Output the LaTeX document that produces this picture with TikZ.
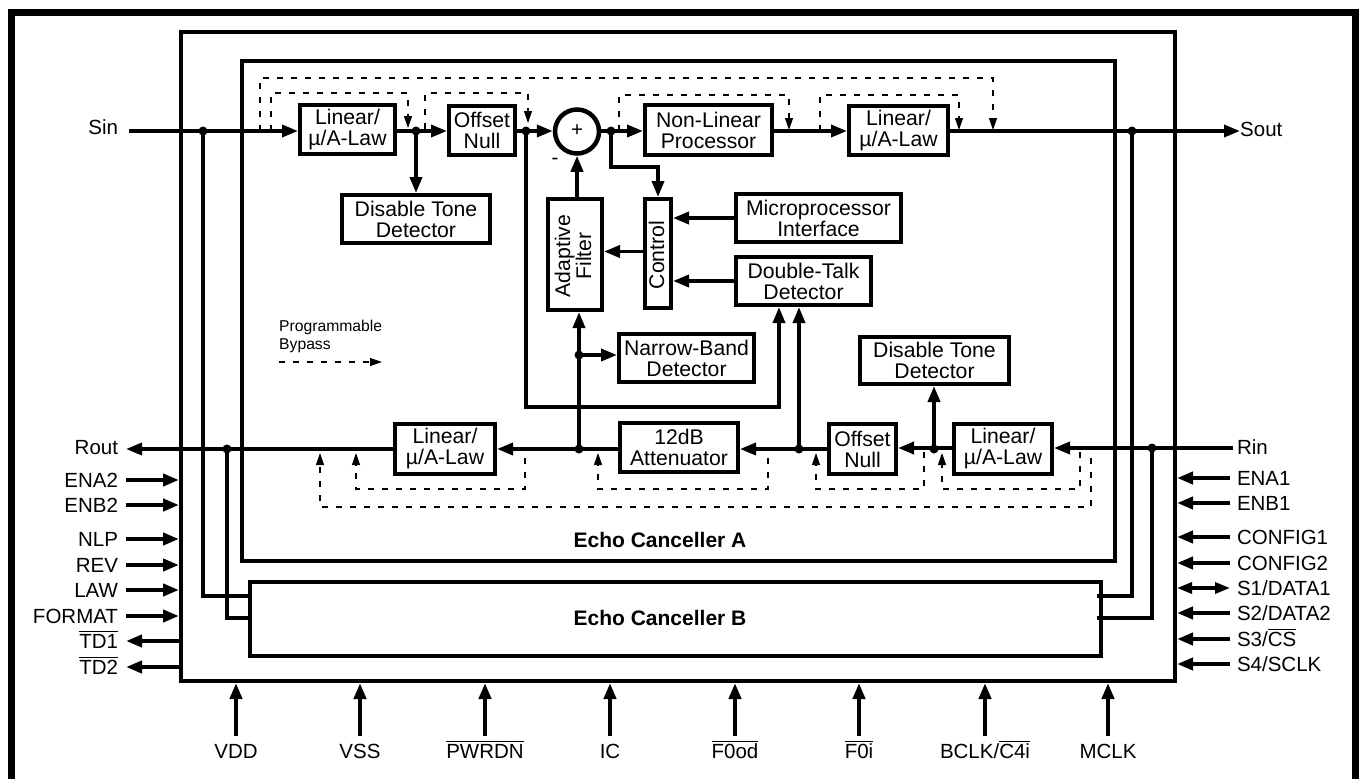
\documentclass[tikz,border=0pt]{standalone}
\usepackage{fontspec}
\setmainfont{Liberation Sans}
\usetikzlibrary{arrows.meta}
\newsavebox\ovlbox
\newcommand\ovl[1]{\sbox\ovlbox{#1}\rlap{\rule[16.3pt]{\wd\ovlbox}{1pt}}\usebox\ovlbox}
\newcommand\mulaw{Linear/\\µ/A-Law}
\tikzset{
  x=1pt,y=-1pt,
  every node/.style={font=\fontsize{20.5}{21}\selectfont,inner sep=0pt},
  blk/.style={draw=black,line width=4pt,fill=white,align=center,font=\fontsize{21.2}{21}\selectfont},
  conn/.style={line width=3.6pt},
  arr/.style={line width=3.6pt,-{Triangle[length=16pt,width=12pt]}},
  pinarr/.style={line width=4pt,-{Triangle[length=16pt,width=12pt]}},
  biarr/.style={line width=3.2pt,{Triangle[length=15pt,width=11pt]}-{Triangle[length=15pt,width=11pt]}},
  bypass/.style={line width=1.2pt,dash pattern=on 6pt off 8pt,-{Triangle[length=12pt,width=8pt]}},
  joint/.style={circle,fill=black,minimum size=9pt},
  pinl/.style={anchor=east,text height=15pt,text depth=0pt,outer xsep=8pt},
  pinr/.style={anchor=west,text height=15pt,text depth=0pt,outer xsep=7pt},
  pinb/.style={text height=15pt,text depth=0pt,outer ysep=8pt},
}
\begin{document}
\begin{tikzpicture}
\useasboundingbox (0,0) rectangle (1360,779);
% outer frame
\draw[line width=7pt,line join=miter] (11.5,779) -- (11.5,12.5) -- (1355,12.5) -- (1355,779);
% large boxes
\node[draw,line width=4pt,minimum width=994pt,minimum height=649pt] (chip) at (678,356.5) {};
\node[draw,line width=3.6pt,minimum width=873pt,minimum height=500pt] (ecA) at (678.5,311) {};
\node[draw,line width=3.6pt,minimum width=851pt,minimum height=74pt] (ecB) at (675.5,619) {};
\node[font=\fontsize{21}{21}\selectfont\bfseries] (ecAt) at (660,540) {Echo Canceller A};
\node[font=\fontsize{21}{21}\selectfont\bfseries] (ecBt) at (660,618) {Echo Canceller B};
% blocks
\node[blk,minimum width=95pt,minimum height=49pt] (lin1) at (347.5,129.5) {\mulaw};
\node[blk,minimum width=66pt,minimum height=49pt] (off1) at (482,130.5) {Offset\\Null};
\node[blk,minimum width=148pt,minimum height=48pt] (dis1) at (416,219) {Disable Tone\\Detector};
\node[blk,minimum width=127pt,minimum height=50pt] (nlp) at (708.5,130) {Non-Linear\\Processor};
\node[blk,minimum width=99pt,minimum height=49pt] (lin2) at (898.5,130.5) {\mulaw};
\node[blk,minimum width=165pt,minimum height=48pt] (mic) at (818.5,218) {Microprocessor\\Interface};
\node[blk,minimum width=135pt,minimum height=48pt] (dtd) at (803.5,281) {Double-Talk\\Detector};
\node[blk,minimum width=26pt,minimum height=109pt] (ctl) at (658,253.5) {};
\node[rotate=90,font=\fontsize{21.2}{21}\selectfont] (ctlt) at (656.5,255) {Control};
\node[blk,minimum width=54pt,minimum height=111pt] (adf) at (575,254.5) {};
\node[rotate=90,align=center,font=\fontsize{21.2}{21}\selectfont] (adft) at (573,256) {Adaptive\\Filter};
\node[blk,minimum width=135pt,minimum height=48pt] (nbd) at (686.5,358) {Narrow-Band\\Detector};
\node[blk,minimum width=149pt,minimum height=47pt] (dis2) at (934.5,360.5) {Disable Tone\\Detector};
\node[blk,minimum width=100pt,minimum height=50pt] (lin3) at (445,449) {\mulaw};
\node[blk,minimum width=118pt,minimum height=49pt] (att) at (679,447.5) {12dB\\Attenuator};
\node[blk,minimum width=67pt,minimum height=50pt] (off2) at (862.5,449) {Offset\\Null};
\node[blk,minimum width=98pt,minimum height=50pt] (lin4) at (1003,449) {\mulaw};
\node[circle,draw,line width=4.5pt,fill=white,minimum size=44pt] (sum) at (577,131.5) {};
\node (plus) at (577,130.5) {+};
\node (minus) at (555,161) {-};
% joints
\node[joint] (d0) at (203,131) {};
\node[joint] (d1) at (416,131) {};
\node[joint] (d2) at (526,131) {};
\node[joint] (d3) at (611,131) {};
\node[joint] (d4) at (1132,131) {};
\node[joint] (d5) at (579,449) {};
\node[joint] (d6) at (579,355) {};
\node[joint] (d7) at (799,449) {};
\node[joint] (d8) at (934,449) {};
\node[joint] (d9) at (1152,448) {};
\node[joint] (d10) at (227,449) {};
% helper points
\coordinate (c1) at (779,407);
\coordinate (c2) at (658,167);
\coordinate (b1) at (250,596);
\coordinate (b2) at (250,618);
\coordinate (b3) at (1097,596);
\coordinate (b4) at (1097,618);
% signal labels
\node[pinl,outer xsep=11pt] (sin) at (129,127) {Sin};
\node[anchor=west,text height=15pt,text depth=0pt] (sout) at (1240,129) {Sout};
\node[pinl] (rout) at (126,447) {Rout};
\node[pinr,outer xsep=4pt] (rin) at (1233,447) {Rin};
% upper path
\draw[arr] (sin.east |- d0) -- (d0.center) -- (d0 -| lin1.west);
\draw[arr] (lin1.east |- d1) -- (d1 -| off1.west);
\draw[arr] (off1.east |- d2) -- (d2 -| sum.west);
\draw[conn] (sum.east |- d3) -- (d3.center);
\draw[arr] (d3.center) -- (d3 -| nlp.west);
\draw[arr] (nlp.east |- 0,131) -- (lin2.west |- 0,131);
\draw[arr] (lin2.east |- d4) -- (sout.west |- d4);
\draw[arr] (d1.center) -- (d1 |- dis1.north);
\draw[arr] (adf.north -| sum.south) -- (sum.south);
\draw[arr] (d3.center) |- (c2) -- (ctl.north);
\draw[arr] (mic.west) -- (mic.west -| ctl.east);
\draw[arr] (dtd.west) -- (dtd.west -| ctl.east);
\draw[arr] ([yshift=2pt]ctl.west) -- ([yshift=2pt]ctl.west -| adf.east);
\draw[arr] (d2.center) |- (c1) -- (c1 |- dtd.south);
\draw[arr] (d5.center) -- (d5 |- adf.south);
\draw[arr] (d6.center) -- (d6 -| nbd.west);
\draw[arr] (d7.center) -- (d7 |- dtd.south);
\draw[arr] (d8.center) -- (d8 |- dis2.south);
% lower path
\draw[arr] (rin.west |- d9) -- (d9 -| lin4.east);
\draw[arr] (lin4.west |- d9) -- (d9 -| off2.east);
\draw[arr] (off2.west |- d7) -- (d7 -| att.east);
\draw[arr] (att.west |- d5) -- (d5 -| lin3.east);
\draw[arr] (lin3.west) -- (rout.east |- lin3.west);
% links to canceller B
\draw[line width=3.3pt] (d0.center) |- (b1);
\draw[line width=3.3pt] (d10.center) |- (b2);
\draw[line width=3.3pt] (d4.center) |- (b3);
\draw[line width=3.3pt] (d9.center) |- (b4);
% bypass, upper
\coordinate (u1) at (260,131); \coordinate (u1e) at (993,130);
\draw[bypass] (u1) -- (260,78) -- (993,78) -- (u1e);
\coordinate (u2) at (271,131); \coordinate (u2e) at (408,128);
\draw[bypass] (u2) -- (271,93) -- (408,93) -- (u2e);
\coordinate (u3) at (425,129); \coordinate (u3e) at (528,123);
\draw[bypass] (u3) -- (425,93) -- (528,93) -- (u3e);
\coordinate (u4) at (619,131); \coordinate (u4e) at (789,130);
\draw[bypass] (u4) -- (619,95) -- (789,95) -- (u4e);
\coordinate (u5) at (820,131); \coordinate (u5e) at (959,130);
\draw[bypass] (u5) -- (820,95) -- (959,95) -- (u5e);
% bypass, lower
\coordinate (l1) at (525,458); \coordinate (l1e) at (356,453);
\draw[bypass] (l1) -- (525,489) -- (356,489) -- (l1e);
\coordinate (l2) at (1091,458); \coordinate (l2e) at (320,453);
\draw[bypass] (l2) -- (1091,507) -- (320,507) -- (l2e);
\coordinate (l3) at (768,458); \coordinate (l3e) at (598,453);
\draw[bypass] (l3) -- (768,489) -- (598,489) -- (l3e);
\coordinate (l4) at (924,452); \coordinate (l4e) at (816,453);
\draw[bypass] (l4) -- (924,489) -- (816,489) -- (l4e);
\coordinate (l5) at (1080,452); \coordinate (l5e) at (942,453);
\draw[bypass] (l5) -- (1080,489) -- (942,489) -- (l5e);
% legend
\node[anchor=west,align=left,font=\fontsize{15.7}{18}\selectfont] (pb) at (279,336) {Programmable\\Bypass};
\coordinate (pgs) at (279,362); \coordinate (pge) at (382,362);
\draw[bypass] (pgs) -- (pge);
% left pins
\node[pinl] (ena2) at (126,480) {ENA2};
\node[pinl] (enb2) at (126,505) {ENB2};
\node[pinl] (nlpp) at (126,539) {NLP};
\node[pinl] (rev) at (126,565) {REV};
\node[pinl] (law) at (126,590) {LAW};
\node[pinl] (fmt) at (126,616) {FORMAT};
\node[pinl] (td1) at (126,641) {\ovl{TD1}};
\node[pinl] (td2) at (126,667) {\ovl{TD2}};
\foreach \n in {ena2,enb2,nlpp,rev,law,fmt}
  \draw[pinarr] (\n.east) -- (\n.east -| chip.west);
\foreach \n in {td1,td2}
  \draw[pinarr] (\n.east -| chip.west) -- (\n.east);
% right pins
\node[pinr] (ena1) at (1230,478) {ENA1};
\node[pinr] (enb1) at (1230,503) {ENB1};
\node[pinr] (cfg1) at (1230,537) {CONFIG1};
\node[pinr] (cfg2) at (1230,563) {CONFIG2};
\node[pinr] (s1) at (1230,588) {S1/DATA1};
\node[pinr] (s2) at (1230,613) {S2/DATA2};
\node[pinr] (s3) at (1230,639) {S3/\ovl{CS}};
\node[pinr] (s4) at (1230,664) {S4/SCLK};
\foreach \n in {ena1,enb1,cfg1,cfg2,s2,s3,s4}
  \draw[pinarr] (\n.west) -- (\n.west -| chip.east);
\draw[biarr] (s1.west) -- (s1.west -| chip.east);
% bottom pins
\node[pinb] (vdd) at (236,751) {VDD};
\node[pinb] (vss) at (360,751) {VSS};
\node[pinb] (pwr) at (485,751) {\ovl{PWRDN}};
\node[pinb] (ic) at (610,751) {IC};
\node[pinb] (fod) at (735,751) {\ovl{F0od}};
\node[pinb] (foi) at (859,751) {\ovl{F0i}};
\node[pinb] (bclk) at (985,751) {BCLK/\ovl{C4i}};
\node[pinb] (mclk) at (1108,751) {MCLK};
\foreach \n in {vdd,vss,pwr,ic,fod,foi,bclk,mclk}
  \draw[pinarr] (\n.north) -- (\n.north |- chip.south);
\end{tikzpicture}
\end{document}
